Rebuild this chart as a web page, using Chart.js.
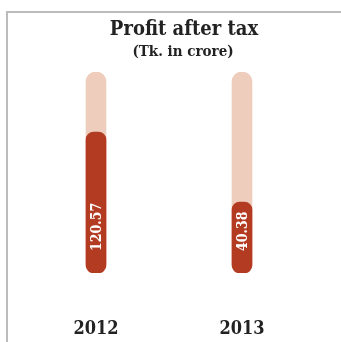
<!DOCTYPE html>
<html>
<head>
<meta charset="utf-8">
<script src="https://cdn.jsdelivr.net/npm/chart.js@4/dist/chart.umd.min.js"></script>
<style>
  html, body { margin: 0; padding: 0; background: #fff; }
  #frame {
    position: absolute; left: 6px; top: 11px; width: 340px; height: 340px;
    border-top: 2px solid #bcbcbc; border-left: 2px solid #bcbcbc;
  }
  #wrap { position: absolute; left: 0; top: 0; width: 341px; height: 342px; }
</style>
</head>
<body>
<div id="frame"></div>
<div id="wrap"><canvas id="chartProfit" width="341" height="342"></canvas></div>
<script>
var years = ['2012', '2013'];
var profit = [120.57, 40.38];
// light background track runs to the top of the scale
var track = [308, 308];
var scaleMin = 13.3;
var scaleMax = 308;

var serif = '"DejaVu Serif Condensed", "DejaVu Serif", serif';

var headingPlugin = {
  id: 'heading',
  afterDraw: function (chart) {
    var ctx = chart.ctx;
    ctx.save();
    ctx.fillStyle = '#222';
    ctx.textAlign = 'center';
    ctx.textBaseline = 'alphabetic';
    ctx.font = 'bold 20px ' + serif;
    ctx.fillText('Profit after tax', 184, 35);
    ctx.font = 'bold 15px ' + serif;
    ctx.fillText('(Tk. in crore)', 183, 56);
    ctx.restore();
  }
};

var valueLabels = {
  id: 'valueLabels',
  afterDatasetsDraw: function (chart) {
    var ctx = chart.ctx;
    var meta = chart.getDatasetMeta(0);
    ctx.save();
    ctx.fillStyle = '#fff';
    ctx.font = 'bold 14px ' + serif;
    ctx.textAlign = 'left';
    ctx.textBaseline = 'middle';
    meta.data.forEach(function (bar, i) {
      ctx.save();
      ctx.translate(bar.x + 1, bar.base - 22);
      ctx.rotate(-Math.PI / 2);
      ctx.fillText(profit[i].toFixed(2), 0, 0);
      ctx.restore();
    });
    ctx.restore();
  }
};

var profitCanvas = document.getElementById('chartProfit');

var barChart = new Chart(profitCanvas, {
  type: 'bar',
  data: {
    labels: years,
    datasets: [
      {
        data: profit,
        backgroundColor: '#b23b21',
        barThickness: 20,
        borderRadius: 8,
        borderSkipped: false,
        grouped: false
      },
      {
        data: track,
        backgroundColor: '#efcdbd',
        barThickness: 20,
        borderRadius: 10,
        borderSkipped: false,
        grouped: false
      }
    ]
  },
  options: {
    responsive: false,
    animation: false,
    devicePixelRatio: 1,
    layout: { padding: { top: 72, left: 23, right: 26, bottom: 0 } },
    plugins: {
      legend: { display: false },
      tooltip: { enabled: false }
    },
    scales: {
      x: {
        grid: { display: false },
        border: { display: false },
        afterFit: function (scale) { scale.height = 69; },
        ticks: {
          color: '#222',
          padding: 38,
          font: { family: serif, size: 18, weight: 'bold' }
        }
      },
      y: {
        type: 'logarithmic',
        min: scaleMin,
        max: scaleMax,
        display: false
      }
    }
  },
  plugins: [headingPlugin, valueLabels]
});
</script>
</body>
</html>
